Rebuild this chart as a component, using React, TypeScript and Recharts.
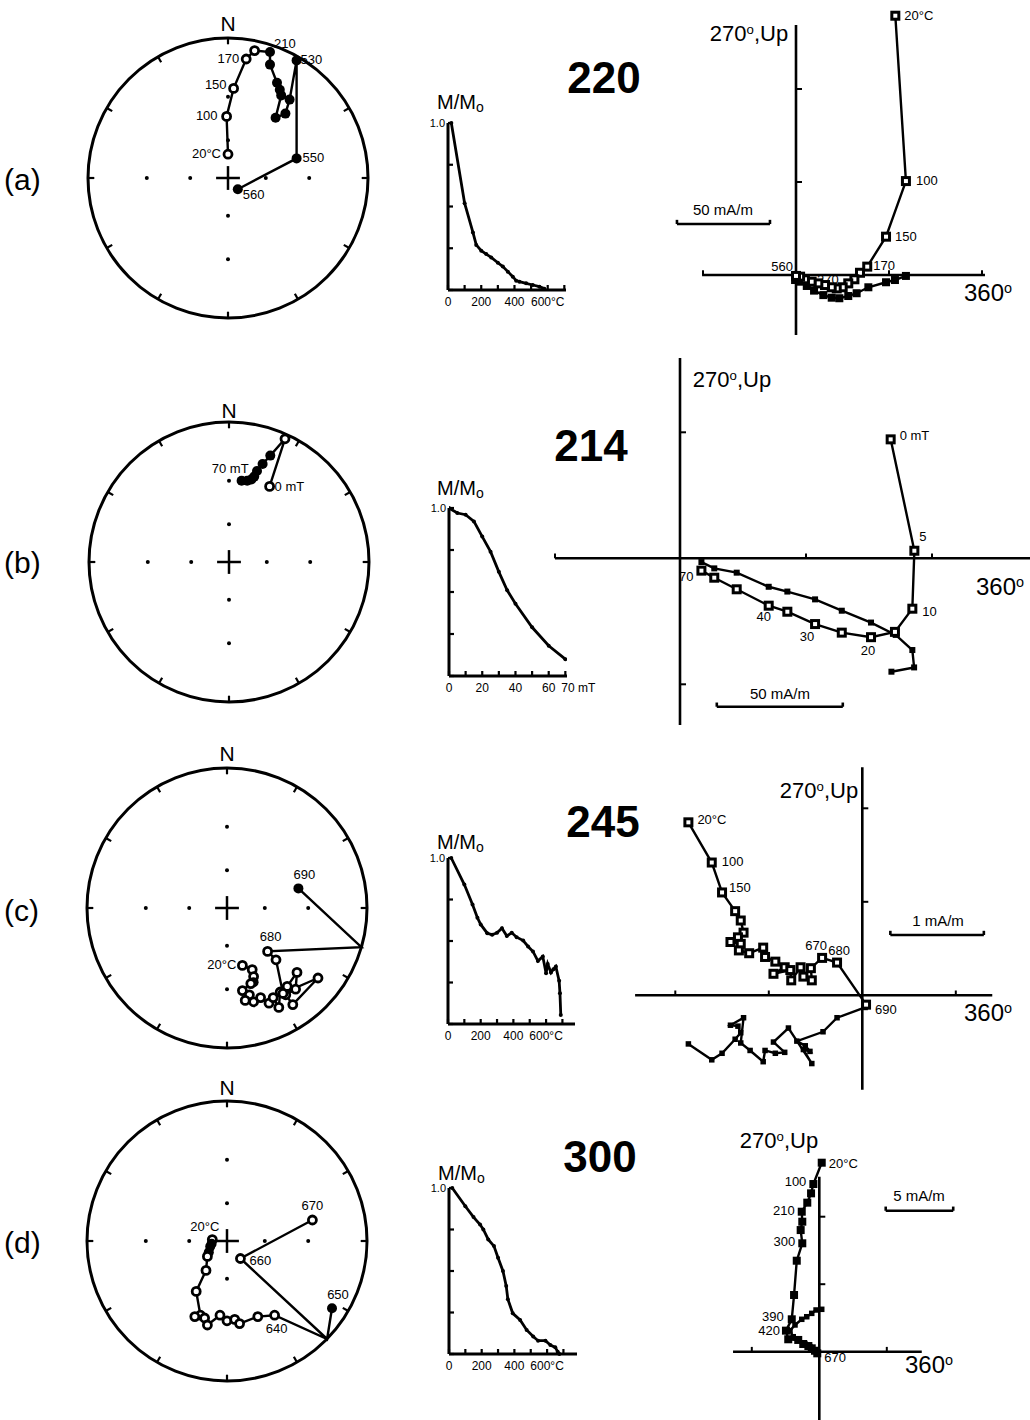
import React from "react";
import {
  ScatterChart,
  Scatter,
  LineChart,
  Line,
  XAxis,
  YAxis,
  ReferenceLine,
  ReferenceDot,
} from "recharts";

const FONT = '"Liberation Sans", Arial, Helvetica, sans-serif';

// Stereonet steps: [east, north] as fraction of the primitive, hemisphere (o = upper, f = lower, "" = crossing), step label
type SP = [number, number, string, string];

const stereoA: SP[] = [
  [0.0, 0.17, "o", "20°C"],
  [-0.01, 0.44, "o", "100"],
  [0.04, 0.64, "o", "150"],
  [0.13, 0.85, "o", "170"],
  [0.19, 0.91, "o", ""],
  [0.3, 0.9, "f", "210"],
  [0.3, 0.81, "f", ""],
  [0.35, 0.68, "f", ""],
  [0.37, 0.63, "f", ""],
  [0.38, 0.59, "f", ""],
  [0.34, 0.43, "f", ""],
  [0.41, 0.46, "f", ""],
  [0.44, 0.56, "f", ""],
  [0.49, 0.84, "f", "530"],
  [0.49, 0.14, "f", "550"],
  [0.07, -0.08, "f", "560"],
];

const stereoB: SP[] = [
  [0.29, 0.54, "o", "0 mT"],
  [0.4, 0.88, "o", ""],
  [0.295, 0.76, "f", ""],
  [0.24, 0.7, "f", ""],
  [0.2, 0.65, "f", ""],
  [0.18, 0.61, "f", ""],
  [0.16, 0.59, "f", ""],
  [0.13, 0.58, "f", ""],
  [0.09, 0.58, "f", "70 mT"],
];

const stereoC: SP[] = [
  [0.11, -0.41, "o", "20°C"],
  [0.18, -0.44, "o", ""],
  [0.19, -0.49, "o", ""],
  [0.19, -0.53, "f", ""],
  [0.17, -0.54, "o", ""],
  [0.11, -0.59, "o", ""],
  [0.16, -0.62, "o", ""],
  [0.13, -0.66, "o", ""],
  [0.19, -0.67, "o", ""],
  [0.24, -0.64, "o", ""],
  [0.3, -0.68, "o", ""],
  [0.33, -0.64, "o", ""],
  [0.37, -0.71, "o", ""],
  [0.38, -0.6, "o", ""],
  [0.43, -0.56, "o", ""],
  [0.5, -0.46, "o", ""],
  [0.49, -0.58, "o", ""],
  [0.42, -0.62, "o", ""],
  [0.47, -0.69, "o", ""],
  [0.65, -0.5, "o", ""],
  [0.4, -0.61, "o", ""],
  [0.35, -0.37, "o", ""],
  [0.29, -0.31, "o", "680"],
  [0.96, -0.28, "", ""],
  [0.51, 0.14, "f", "690"],
];

const stereoD: SP[] = [
  [-0.105, 0.01, "o", "20°C"],
  [-0.11, -0.02, "f", ""],
  [-0.12, -0.04, "f", ""],
  [-0.13, -0.08, "f", ""],
  [-0.14, -0.11, "o", ""],
  [-0.15, -0.21, "o", ""],
  [-0.22, -0.36, "o", ""],
  [-0.19, -0.53, "o", ""],
  [-0.23, -0.54, "o", ""],
  [-0.16, -0.55, "o", ""],
  [-0.14, -0.6, "o", ""],
  [-0.05, -0.53, "o", ""],
  [0.0, -0.57, "o", ""],
  [0.055, -0.56, "o", ""],
  [0.09, -0.59, "o", ""],
  [0.22, -0.54, "o", ""],
  [0.34, -0.53, "o", "640"],
  [0.715, -0.7, "", ""],
  [0.75, -0.48, "f", "650"],
  [0.715, -0.7, "", ""],
  [0.096, -0.125, "o", "660"],
  [0.61, 0.15, "o", "670"],
];

// Zijderveld steps: [x, y] in mA/m, step label
type ZP = [number, number, string];

const zijVertA: ZP[] = [
  [53.4, 139.4, "20°C"],
  [59.1, 50.5, "100"],
  [48.4, 20.6, "150"],
  [38.3, 4.5, "170"],
  [34.4, 1.2, ""],
  [31.4, -2.3, ""],
  [28.1, -4.5, ""],
  [25.1, -6.6, ""],
  [21.9, -7.2, "270"],
  [19.2, -6.6, ""],
  [15.6, -5.4, ""],
  [12.0, -4.5, ""],
  [8.4, -3.6, ""],
  [4.8, -2.3, ""],
  [2.2, -0.9, ""],
  [0.0, -0.5, "560"],
];
const zijHorA: ZP[] = [
  [59.1, -0.5, ""],
  [53.2, -2.7, ""],
  [48.4, -3.9, ""],
  [38.9, -6.6, ""],
  [32.6, -9.8, ""],
  [28.1, -11.3, ""],
  [23.3, -12.5, ""],
  [19.2, -12.2, ""],
  [14.7, -10.8, ""],
  [9.7, -8.4, ""],
  [5.8, -5.9, ""],
  [2.2, -3.6, ""],
  [-0.5, -2.7, ""],
];

const zijVertB: ZP[] = [
  [83.6, 47.2, "0 mT"],
  [93.0, 3.0, "5"],
  [92.2, -20.0, "10"],
  [85.3, -29.2, ""],
  [75.8, -31.3, "20"],
  [64.2, -29.5, ""],
  [53.6, -26.1, "30"],
  [42.6, -21.2, ""],
  [35.2, -18.8, "40"],
  [22.5, -12.3, ""],
  [13.6, -7.7, ""],
  [8.5, -4.9, "70"],
];
const zijHorB: ZP[] = [
  [83.9, -45.0, ""],
  [92.9, -43.3, ""],
  [92.2, -36.4, ""],
  [85.6, -30.4, ""],
  [75.8, -25.5, ""],
  [64.2, -20.8, ""],
  [53.6, -16.3, ""],
  [42.6, -13.2, ""],
  [35.2, -11.3, ""],
  [22.5, -5.7, ""],
  [13.6, -4.0, ""],
  [8.5, -1.5, ""],
];

const zijVertC: ZP[] = [
  [-1.86, 1.85, "20°C"],
  [-1.61, 1.42, "100"],
  [-1.5, 1.1, "150"],
  [-1.36, 0.9, ""],
  [-1.3, 0.8, ""],
  [-1.27, 0.67, ""],
  [-1.33, 0.62, ""],
  [-1.41, 0.57, ""],
  [-1.3, 0.55, ""],
  [-1.32, 0.48, ""],
  [-1.21, 0.45, ""],
  [-1.06, 0.51, ""],
  [-1.04, 0.41, ""],
  [-0.93, 0.36, ""],
  [-0.83, 0.3, ""],
  [-0.95, 0.23, ""],
  [-0.77, 0.27, ""],
  [-0.76, 0.16, ""],
  [-0.66, 0.3, ""],
  [-0.63, 0.2, ""],
  [-0.54, 0.16, ""],
  [-0.55, 0.29, ""],
  [-0.43, 0.4, "670"],
  [-0.27, 0.35, "680"],
  [0.04, -0.1, "690"],
];
const zijHorC: ZP[] = [
  [-1.86, -0.52, ""],
  [-1.61, -0.69, ""],
  [-1.5, -0.62, ""],
  [-1.36, -0.47, ""],
  [-1.3, -0.4, ""],
  [-1.33, -0.33, ""],
  [-1.41, -0.32, ""],
  [-1.27, -0.24, ""],
  [-1.3, -0.51, ""],
  [-1.2, -0.59, ""],
  [-1.06, -0.71, ""],
  [-1.04, -0.59, ""],
  [-0.93, -0.62, ""],
  [-0.83, -0.61, ""],
  [-0.95, -0.5, ""],
  [-0.79, -0.35, ""],
  [-0.54, -0.73, ""],
  [-0.63, -0.58, ""],
  [-0.56, -0.6, ""],
  [-0.61, -0.54, ""],
  [-0.7, -0.49, ""],
  [-0.42, -0.39, ""],
  [-0.27, -0.24, ""],
  [0.03, -0.13, ""],
];

const zijVertD: ZP[] = [
  [0.18, 14.0, "20°C"],
  [-0.44, 12.42, "100"],
  [-0.61, 11.73, ""],
  [-0.89, 11.04, ""],
  [-1.3, 10.37, "210"],
  [-1.26, 9.63, ""],
  [-1.38, 9.01, ""],
  [-1.26, 8.03, "300"],
  [-1.67, 6.74, ""],
  [-1.87, 4.2, ""],
  [-2.04, 2.4, "390"],
  [-2.47, 1.56, "420"],
  [-2.3, 0.92, ""],
  [-1.56, 0.87, ""],
  [-1.19, 0.57, ""],
  [-0.81, 0.42, ""],
  [-0.56, 0.25, ""],
  [-0.32, 0.07, ""],
  [-0.15, -0.12, "670"],
];
const zijHorD: ZP[] = [
  [0.18, 3.14, ""],
  [-0.24, 3.09, ""],
  [-0.56, 2.84, ""],
  [-0.93, 2.59, ""],
  [-1.3, 2.4, ""],
  [-1.8, 1.98, ""],
  [-2.17, 1.56, ""],
  [-1.93, 1.11, ""],
  [-1.5, 0.87, ""],
  [-1.06, 0.57, ""],
  [-0.7, 0.37, ""],
  [-0.4, 0.12, ""],
  [-0.08, -0.12, ""],
];

// Demagnetization curves (M/Mo)
const stepsA = [20, 100, 150, 170, 200, 230, 260, 300, 330, 360, 390, 410, 430, 470, 510, 550, 580];
const magA = [1.0, 0.52, 0.345, 0.27, 0.235, 0.215, 0.195, 0.163, 0.14, 0.11, 0.08, 0.056, 0.05, 0.04, 0.03, 0.02, 0.008];

const stepsB = [0, 5, 10, 15, 20, 25, 30, 35, 40, 50, 60, 70];
const magB = [1.0, 0.97, 0.96, 0.92, 0.83, 0.74, 0.62, 0.51, 0.43, 0.29, 0.18, 0.1];

const stepsC = [20, 100, 150, 180, 200, 240, 270, 300, 330, 360, 390, 420, 460, 490, 520, 550, 580, 600, 610, 630, 645, 660, 680, 685, 690];
const magC = [1.0, 0.84, 0.72, 0.64, 0.6, 0.547, 0.537, 0.55, 0.577, 0.53, 0.55, 0.523, 0.503, 0.467, 0.437, 0.38, 0.406, 0.306, 0.362, 0.31, 0.33, 0.346, 0.26, 0.185, 0.054];

const stepsD = [20, 100, 150, 190, 210, 240, 275, 300, 330, 350, 360, 390, 435, 475, 515, 545, 590, 620, 650, 665, 675];
const magD = [1.0, 0.89, 0.825, 0.78, 0.75, 0.69, 0.65, 0.58, 0.5, 0.41, 0.33, 0.245, 0.205, 0.145, 0.105, 0.08, 0.08, 0.054, 0.04, 0.014, 0.0];

const thermalTicks = [0, 100, 200, 300, 400, 500, 600, 700];
const thermalLabels: Record<number, string> = { 0: "0", 200: "200", 400: "400", 600: "600°C" };
const afTicks = [0, 10, 20, 30, 40, 50, 60, 70];
const afLabels: Record<number, string> = { 0: "0", 20: "20", 40: "40", 60: "60", 70: "70 mT" };

// label offsets [dx, dy, anchor]
type LP = [number, number, "start" | "middle" | "end"];
const placeStereoA: Record<string, LP> = {
  "20°C": [-7, 4, "end"], "100": [-9, 4, "end"], "150": [-7, 1, "end"], "170": [-7, 4, "end"],
  "210": [4, -4, "start"], "530": [4, 4, "start"], "550": [6, 4, "start"], "560": [5, 10, "start"],
};
const placeStereoB: Record<string, LP> = { "0 mT": [5, 5, "start"], "70 mT": [7, -8, "end"] };
const placeStereoC: Record<string, LP> = { "20°C": [-6, 4, "end"], "680": [3, -10, "middle"], "690": [6, -9, "middle"] };
const placeStereoD: Record<string, LP> = {
  "20°C": [7, -9, "end"], "640": [2, 18, "middle"], "650": [6, -9, "middle"], "660": [9, 6, "start"], "670": [0, -10, "middle"],
};
const placeZijA: Record<string, LP> = {
  "20°C": [9, 4, "start"], "100": [10, 4, "start"], "150": [9, 4, "start"], "170": [6, 3, "start"],
  "270": [2, -4, "end"], "560": [-3, -5, "end"],
};
const placeZijB: Record<string, LP> = {
  "0 mT": [9, 1, "start"], "5": [5, -10, "start"], "10": [10, 7, "start"], "20": [-3, 18, "middle"],
  "30": [-8, 17, "middle"], "40": [-5, 15, "middle"], "70": [-8, 10, "end"],
};
const placeZijC: Record<string, LP> = {
  "20°C": [9, 2, "start"], "100": [10, 3, "start"], "150": [7, 0, "start"],
  "670": [-6, -8, "middle"], "680": [2, -8, "middle"], "690": [9, 9, "start"],
};
const placeZijD: Record<string, LP> = {
  "20°C": [7, 5, "start"], "100": [-7, 2, "end"], "210": [-7, 3, "end"], "300": [-7, 3, "end"],
  "390": [-8, 2, "end"], "420": [-6, 4, "end"], "670": [7, 9, "start"],
};

const RIM_TICKS = [0, 30, 60, 90, 120, 150, 180, 210, 240, 270, 300, 330];
const GRID = [-0.58, -0.27, 0.27, 0.58];
const R = 140;
const LINE = { stroke: "#000", strokeWidth: 2.4 };

function Stereonet({ pts, cx, cy, place }: { pts: SP[]; cx: number; cy: number; place: Record<string, LP> }) {
  const data = pts.map(([x, y, k, label]) => ({ x, y, k, label }));
  const shape = (p: any) => {
    const { cx: px, cy: py, payload } = p;
    const lp = place[payload.label];
    return (
      <g>
        {payload.k === "o" && <circle cx={px} cy={py} r={4} fill="#fff" stroke="#000" strokeWidth={2.8} />}
        {payload.k === "f" && <circle cx={px} cy={py} r={5} fill="#000" />}
        {lp && (
          <text x={px + lp[0]} y={py + lp[1]} textAnchor={lp[2]} fontSize={13} fontFamily={FONT} fill="#000">
            {payload.label}
          </text>
        )}
      </g>
    );
  };
  return (
    <div style={{ position: "absolute", left: cx - 150, top: cy - 150 }}>
      <ScatterChart width={300} height={300} margin={{ top: 10, right: 10, bottom: 10, left: 10 }}>
        <XAxis type="number" dataKey="x" domain={[-1, 1]} hide allowDataOverflow />
        <YAxis type="number" dataKey="y" domain={[-1, 1]} hide allowDataOverflow />
        <ReferenceDot x={0} y={0} r={R} fill="none" stroke="#000" strokeWidth={3} ifOverflow="visible" />
        {RIM_TICKS.map((a) => {
          const s = Math.sin((a * Math.PI) / 180);
          const c = Math.cos((a * Math.PI) / 180);
          return (
            <ReferenceLine
              key={"t" + a}
              segment={[{ x: s, y: c }, { x: s * 0.955, y: c * 0.955 }]}
              stroke="#000"
              strokeWidth={2.2}
              ifOverflow="visible"
            />
          );
        })}
        {GRID.map((g) => (
          <ReferenceDot key={"gx" + g} x={g} y={0} r={2} fill="#000" stroke="none" />
        ))}
        {GRID.map((g) => (
          <ReferenceDot key={"gy" + g} x={0} y={g} r={2} fill="#000" stroke="none" />
        ))}
        <ReferenceLine segment={[{ x: -0.085, y: 0 }, { x: 0.085, y: 0 }]} stroke="#000" strokeWidth={2.5} />
        <ReferenceLine segment={[{ x: 0, y: -0.085 }, { x: 0, y: 0.085 }]} stroke="#000" strokeWidth={2.5} />
        <Scatter
          data={data}
          line={LINE}
          lineType="joint"
          stroke="#000"
          strokeWidth={2.4}
          shape={shape}
          isAnimationActive={false}
        />
      </ScatterChart>
    </div>
  );
}

type ZProps = {
  box: [number, number, number, number];
  ox: number;
  oy: number;
  s: number;
  vert: ZP[];
  hor: ZP[];
  vAxis: [number, number];
  hAxis: [number, number];
  vTicks: number[];
  hTicks: number[];
  bar: [number, number, number];
  vFilled?: boolean;
  vSize: number;
  hSize: number;
  place: Record<string, LP>;
};

function Zijderveld(z: ZProps) {
  const [bl, bt, bw, bh] = z.box;
  const xd = [(bl - z.ox) / z.s, (bl + bw - z.ox) / z.s];
  const yd = [(z.oy - bt - bh) / z.s, (z.oy - bt) / z.s];
  const tk = 6 / z.s;
  const vData = z.vert.map(([x, y, label]) => ({ x, y, label }));
  const hData = z.hor.map(([x, y, label]) => ({ x, y, label }));
  const square = (filled: boolean, outer: number) => (p: any) => {
    const { cx, cy, payload } = p;
    const lp = z.place[payload.label];
    const sw = filled ? 0 : 3;
    const a = outer - sw;
    return (
      <g>
        <rect
          x={cx - a / 2}
          y={cy - a / 2}
          width={a}
          height={a}
          fill={filled ? "#000" : "#fff"}
          stroke="#000"
          strokeWidth={sw}
        />
        {lp && (
          <text x={cx + lp[0]} y={cy + lp[1]} textAnchor={lp[2]} fontSize={13} fontFamily={FONT} fill="#000">
            {payload.label}
          </text>
        )}
      </g>
    );
  };
  const [bx, by, blen] = z.bar;
  return (
    <div style={{ position: "absolute", left: bl, top: bt }}>
      <ScatterChart width={bw} height={bh} margin={{ top: 0, right: 0, bottom: 0, left: 0 }}>
        <XAxis type="number" dataKey="x" domain={xd} hide allowDataOverflow />
        <YAxis type="number" dataKey="y" domain={yd} hide allowDataOverflow />
        <ReferenceLine segment={[{ x: 0, y: z.vAxis[0] }, { x: 0, y: z.vAxis[1] }]} stroke="#000" strokeWidth={2.6} ifOverflow="visible" />
        <ReferenceLine segment={[{ x: z.hAxis[0], y: 0 }, { x: z.hAxis[1], y: 0 }]} stroke="#000" strokeWidth={2.6} ifOverflow="visible" />
        {z.vTicks.map((v) => (
          <ReferenceLine key={"vt" + v} segment={[{ x: 0, y: v }, { x: tk, y: v }]} stroke="#000" strokeWidth={2} ifOverflow="visible" />
        ))}
        {z.hTicks.map((v) => (
          <ReferenceLine key={"ht" + v} segment={[{ x: v, y: 0 }, { x: v, y: tk * 0.8 }]} stroke="#000" strokeWidth={2} ifOverflow="visible" />
        ))}
        <ReferenceLine segment={[{ x: bx, y: by }, { x: bx + blen, y: by }]} stroke="#000" strokeWidth={2.6} ifOverflow="visible" />
        <ReferenceLine segment={[{ x: bx, y: by }, { x: bx, y: by + tk * 0.7 }]} stroke="#000" strokeWidth={2.6} ifOverflow="visible" />
        <ReferenceLine segment={[{ x: bx + blen, y: by }, { x: bx + blen, y: by + tk * 0.7 }]} stroke="#000" strokeWidth={2.6} ifOverflow="visible" />
        <Scatter data={hData} line={LINE} lineType="joint" stroke="#000" strokeWidth={2.4} shape={square(true, z.hSize)} isAnimationActive={false} />
        <Scatter data={vData} line={LINE} lineType="joint" stroke="#000" strokeWidth={2.4} shape={square(!!z.vFilled, z.vSize)} isAnimationActive={false} />
      </ScatterChart>
    </div>
  );
}

type DProps = {
  left: number;
  top: number;
  w: number;
  h: number;
  steps: number[];
  mag: number[];
  xMax: number;
  ticks: number[];
  labels: Record<number, string>;
};

function Decay(d: DProps) {
  const data = d.steps.map((t, i) => ({ t, m: d.mag[i] }));
  const xTick = (p: any) => {
    const v = p.payload.value;
    const txt = d.labels[v];
    const isUnit = txt && txt.indexOf("mT") > 0;
    return (
      <g>
        <line x1={p.x} y1={p.y} x2={p.x} y2={p.y - 5} stroke="#000" strokeWidth={2.2} />
        {txt && (
          <text
            x={isUnit ? p.x - 4 : p.x}
            y={p.y + 16}
            textAnchor={isUnit ? "start" : "middle"}
            fontSize={12}
            fontFamily={FONT}
            fill="#000"
          >
            {txt}
          </text>
        )}
      </g>
    );
  };
  const yTick = (p: any) => {
    const v = p.payload.value;
    return (
      <g>
        <line x1={p.x} y1={p.y} x2={p.x + 5} y2={p.y} stroke="#000" strokeWidth={2.2} />
        {v === 1 && (
          <text x={p.x - 3} y={p.y + 4} textAnchor="end" fontSize={11} fontFamily={FONT} fill="#000">
            1.0
          </text>
        )}
      </g>
    );
  };
  return (
    <div style={{ position: "absolute", left: d.left - 30, top: d.top - 5 }}>
      <LineChart width={30 + d.w + 40} height={5 + d.h + 22} data={data} margin={{ top: 5, right: 40, bottom: 0, left: 0 }}>
        <XAxis
          type="number"
          dataKey="t"
          domain={[0, d.xMax]}
          ticks={d.ticks}
          interval={0}
          height={22}
          tickSize={0}
          tickMargin={0}
          tick={xTick}
          axisLine={{ stroke: "#000", strokeWidth: 3 }}
          allowDataOverflow
        />
        <YAxis
          type="number"
          domain={[0, 1]}
          ticks={[0, 0.25, 0.5, 0.75, 1]}
          interval={0}
          width={30}
          tickSize={0}
          tickMargin={0}
          tick={yTick}
          axisLine={{ stroke: "#000", strokeWidth: 3 }}
        />
        <Line
          type="linear"
          dataKey="m"
          stroke="#000"
          strokeWidth={2.8}
          dot={{ r: 2, fill: "#000", stroke: "#000", strokeWidth: 0 }}
          isAnimationActive={false}
        />
      </LineChart>
    </div>
  );
}

function Txt({ x, y, size, bold, children, anchor = "middle" }: any) {
  const tx = anchor === "middle" ? "-50%" : anchor === "end" ? "-100%" : "0";
  return (
    <div
      style={{
        position: "absolute",
        left: x,
        top: y,
        transform: `translate(${tx}, -50%)`,
        fontSize: size,
        fontWeight: bold ? 700 : 400,
        fontFamily: FONT,
        whiteSpace: "nowrap",
        lineHeight: 1,
        color: "#000",
      }}
    >
      {children}
    </div>
  );
}

const Deg = () => <sup style={{ fontSize: "0.6em", verticalAlign: "0.55em" }}>o</sup>;
const MMo = () => (
  <>
    M/M<sub style={{ fontSize: "0.7em", verticalAlign: "-0.2em" }}>o</sub>
  </>
);

export default function App() {
  return (
    <div style={{ position: "absolute", left: 0, top: 0, width: 1030, height: 1420, background: "#fff", overflow: "hidden" }}>
      {/* row (a) */}
      <Txt x={4} y={180} size={30} anchor="start">(a)</Txt>
      <Txt x={228} y={23} size={21}>N</Txt>
      <Stereonet pts={stereoA} cx={228} cy={178} place={placeStereoA} />
      <Txt x={437} y={103} size={20} anchor="start"><MMo /></Txt>
      <Decay left={448} top={123} w={118} h={167} steps={stepsA} mag={magA} xMax={710} ticks={thermalTicks} labels={thermalLabels} />
      <Txt x={604} y={78} size={44} bold>220</Txt>
      <Zijderveld
        box={[660, 0, 370, 345]} ox={796} oy={275} s={1.86}
        vert={zijVertA} hor={zijHorA}
        vAxis={[-32.3, 134.4]} hAxis={[-50.5, 101.6]} vTicks={[50, 100]} hTicks={[-50, 50, 100]}
        bar={[-64, 27.4, 50]} vSize={10} hSize={8} place={placeZijA}
      />
      <Txt x={749} y={34} size={22}>270<Deg />,Up</Txt>
      <Txt x={988} y={293} size={24}>360<Deg /></Txt>
      <Txt x={723} y={209} size={15}>50 mA/m</Txt>

      {/* row (b) */}
      <Txt x={4} y={563} size={30} anchor="start">(b)</Txt>
      <Txt x={229} y={410} size={21}>N</Txt>
      <Stereonet pts={stereoB} cx={229} cy={562} place={placeStereoB} />
      <Txt x={437} y={489} size={20} anchor="start"><MMo /></Txt>
      <Decay left={449} top={508} w={118} h={168} steps={stepsB} mag={magB} xMax={71} ticks={afTicks} labels={afLabels} />
      <Txt x={591} y={446} size={44} bold>214</Txt>
      <Zijderveld
        box={[540, 340, 490, 395]} ox={680} oy={558.3} s={2.52}
        vert={zijVertB} hor={zijHorB}
        vAxis={[-66.2, 79.5]} hAxis={[-49.6, 139]} vTicks={[-50, 50]} hTicks={[-49.6, 50, 100]}
        bar={[14.6, -58.9, 50]} vSize={10} hSize={6} place={placeZijB}
      />
      <Txt x={732} y={380} size={22}>270<Deg />,Up</Txt>
      <Txt x={1000} y={587} size={24}>360<Deg /></Txt>
      <Txt x={780} y={693} size={15}>50 mA/m</Txt>

      {/* row (c) */}
      <Txt x={4} y={911} size={30} anchor="start">(c)</Txt>
      <Txt x={227} y={753} size={21}>N</Txt>
      <Stereonet pts={stereoC} cx={227} cy={908} place={placeStereoC} />
      <Txt x={437} y={843} size={20} anchor="start"><MMo /></Txt>
      <Decay left={448} top={858} w={127} h={166} steps={stepsC} mag={magC} xMax={777} ticks={thermalTicks} labels={thermalLabels} />
      <Txt x={603} y={822} size={44} bold>245</Txt>
      <Zijderveld
        box={[630, 755, 400, 340]} ox={862.3} oy={995.3} s={93.5}
        vert={zijVertC} hor={zijHorC}
        vAxis={[-1.01, 2.44]} hAxis={[-2.43, 1.39]} vTicks={[1, 2]} hTicks={[-2, -1, 1]}
        bar={[0.3, 0.645, 1]} vSize={10} hSize={5.5} place={placeZijC}
      />
      <Txt x={819} y={791} size={22}>270<Deg />,Up</Txt>
      <Txt x={988} y={1013} size={24}>360<Deg /></Txt>
      <Txt x={938} y={920} size={15}>1 mA/m</Txt>

      {/* row (d) */}
      <Txt x={4} y={1243} size={30} anchor="start">(d)</Txt>
      <Txt x={227} y={1087} size={21}>N</Txt>
      <Stereonet pts={stereoD} cx={227} cy={1241} place={placeStereoD} />
      <Txt x={438} y={1174} size={20} anchor="start"><MMo /></Txt>
      <Decay left={449} top={1188} w={128} h={166} steps={stepsD} mag={magD} xMax={783} ticks={thermalTicks} labels={thermalLabels} />
      <Txt x={600} y={1157} size={44} bold>300</Txt>
      <Zijderveld
        box={[720, 1140, 310, 280]} ox={819.3} oy={1351.7} s={13.5}
        vert={zijVertD} hor={zijHorD}
        vAxis={[-5.06, 12.96]} hAxis={[-6.39, 7.59]} vTicks={[5, 10]} hTicks={[-5, 5]}
        bar={[4.92, 10.44, 5]} vFilled vSize={8} hSize={5.5} place={placeZijD}
      />
      <Txt x={779} y={1141} size={22}>270<Deg />,Up</Txt>
      <Txt x={929} y={1365} size={24}>360<Deg /></Txt>
      <Txt x={919} y={1195} size={15}>5 mA/m</Txt>
    </div>
  );
}
